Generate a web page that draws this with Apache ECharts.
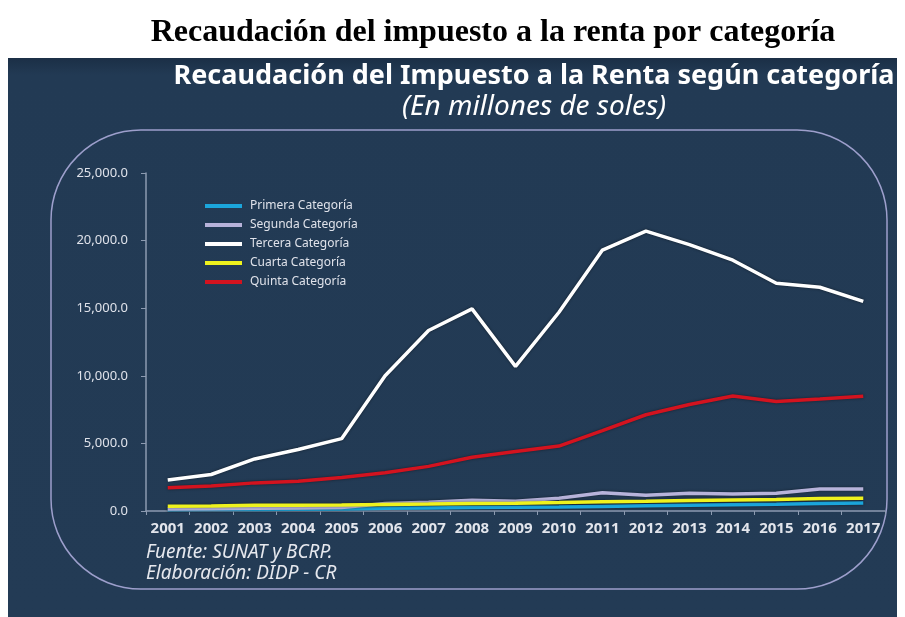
<!DOCTYPE html>
<html>
<head>
<meta charset="utf-8">
<title>Recaudación del impuesto a la renta por categoría</title>
<script src="https://cdn.jsdelivr.net/npm/echarts@6/dist/echarts.min.js"></script>
<style>
  html, body { margin: 0; padding: 0; background: #ffffff; }
  #chart { width: 905px; height: 617px; }
</style>
</head>
<body>
<div id="chart"></div>
<script>
// años (eje x)
const years = ['2001', '2002', '2003', '2004', '2005', '2006', '2007', '2008', '2009',
  '2010', '2011', '2012', '2013', '2014', '2015', '2016', '2017']

// recaudación en millones de soles
const primera = [100, 110, 120, 130, 150, 200, 230, 260, 280, 300, 340, 380, 420, 460, 500, 550, 600]
const segunda = [150, 170, 200, 220, 250, 550, 650, 800, 720, 950, 1350, 1170, 1320, 1250, 1320, 1620, 1620]
const tercera = [2300, 2700, 3850, 4550, 5350, 10000, 13350, 14950, 10700, 14700, 19300, 20700, 19700, 18550, 16850, 16550, 15500]
const cuarta = [360, 370, 420, 430, 440, 490, 520, 560, 580, 630, 690, 730, 780, 820, 850, 920, 940]
const quinta = [1720, 1850, 2080, 2200, 2470, 2830, 3300, 3980, 4400, 4800, 5950, 7120, 7880, 8500, 8100, 8280, 8480]

const yTicks = { min: 0, max: 25000, interval: 5000 }

const seriesNames = ['Primera Categoría', 'Segunda Categoría', 'Tercera Categoría', 'Cuarta Categoría', 'Quinta Categoría']
const seriesData = [primera, segunda, tercera, cuarta, quinta]
const seriesColors = ['#1ba6dc', '#b7b3da', '#ffffff', '#eef21e', '#d3131f']

const myChart = echarts.init(document.getElementById('chart'))

myChart.setOption({
  backgroundColor: '#ffffff',
  animation: false,
  graphic: [
    // fondo oscuro
    {
      type: 'rect',
      z: -10,
      shape: { x: 8, y: 58, width: 889, height: 559 },
      style: {
        fill: {
          type: 'linear', x: 0, y: 0, x2: 0, y2: 1,
          colorStops: [
            { offset: 0, color: '#1b2f46' },
            { offset: 0.03, color: '#223a54' },
            { offset: 1, color: '#233b55' }
          ]
        }
      }
    },
    // marco redondeado
    {
      type: 'rect',
      z: -9,
      shape: { x: 51, y: 130, width: 836, height: 459, r: 90 },
      style: { fill: 'transparent', stroke: '#9d9fcc', lineWidth: 1.5 }
    },
    // fuente
    {
      type: 'text',
      left: 146,
      top: 542,
      style: {
        text: 'Fuente: SUNAT y BCRP.\nElaboración: DIDP - CR',
        fill: '#e6e8ee',
        font: 'italic 19px "Noto Sans"',
        lineHeight: 21
      }
    }
  ],
  title: [
    {
      text: 'Recaudación del impuesto a la renta por categoría',
      left: 488,
      top: 12,
      textAlign: 'center',
      textStyle: {
        fontFamily: 'Liberation Serif',
        fontWeight: 'bold',
        fontSize: 32,
        color: '#000000'
      }
    },
    {
      text: 'Recaudación del Impuesto a la Renta según categoría',
      left: 529,
      top: 58,
      textAlign: 'center',
      textStyle: {
        fontFamily: 'Noto Sans',
        fontWeight: 'bold',
        fontSize: 27,
        color: '#ffffff'
      }
    },
    {
      text: '(En millones de soles)',
      left: 529,
      top: 88,
      textAlign: 'center',
      textStyle: {
        fontFamily: 'Noto Sans',
        fontStyle: 'italic',
        fontWeight: 'normal',
        fontSize: 28,
        color: '#ffffff'
      }
    }
  ],
  legend: {
    orient: 'vertical',
    left: 200,
    top: 195,
    itemWidth: 37,
    itemHeight: 4,
    itemGap: 7,
    icon: 'rect',
    data: seriesNames,
    textStyle: {
      color: '#dfe2ea',
      fontFamily: 'Noto Sans',
      fontSize: 12,
      padding: [0, 0, 0, 3]
    }
  },
  grid: {
    left: 146,
    right: 20,
    top: 173,
    bottom: 106
  },
  xAxis: {
    type: 'category',
    data: years,
    boundaryGap: true,
    axisLine: { lineStyle: { color: '#8d9bb1', width: 1.5 } },
    axisTick: { show: true, length: 4, lineStyle: { color: '#8d9bb1' } },
    axisLabel: {
      color: '#e2e5ec',
      fontFamily: 'Noto Sans',
      fontWeight: 'bold',
      fontSize: 15,
      margin: 10,
      interval: 0
    },
    splitLine: { show: false }
  },
  yAxis: {
    type: 'value',
    min: yTicks.min,
    max: yTicks.max,
    interval: yTicks.interval,
    axisLine: { show: true, lineStyle: { color: '#8d9bb1', width: 1.5 } },
    axisTick: { show: true, length: 5, lineStyle: { color: '#8d9bb1' } },
    axisLabel: {
      color: '#dfe2ea',
      fontFamily: 'Noto Sans',
      fontSize: 13,
      margin: 18,
      formatter: function(value) {
        return value.toLocaleString('en-US') + '.0'
      }
    },
    splitLine: { show: false }
  },
  series: seriesNames.map((name, i) => ({
    name: name,
    type: 'line',
    data: seriesData[i],
    symbol: 'none',
    color: seriesColors[i],
    lineStyle: {
      width: 3.5,
      color: seriesColors[i],
      shadowColor: 'rgba(0, 0, 0, 0.45)',
      shadowBlur: 3
    }
  }))
})
</script>
</body>
</html>
